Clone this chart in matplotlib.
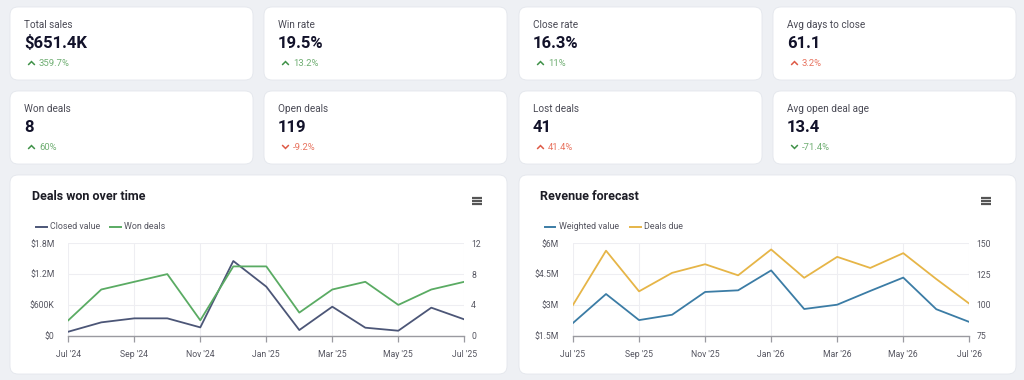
import matplotlib
matplotlib.use("Agg")
import matplotlib.pyplot as plt
from matplotlib.patches import FancyBboxPatch
import numpy as np

plt.rcParams['font.family'] = ['Roboto', 'DejaVu Sans']

# ---------------- data ----------------
kpi_labels = ["Total sales", "Win rate", "Close rate", "Avg days to close",
              "Won deals", "Open deals", "Lost deals", "Avg open deal age"]
kpi_values = ["$651.4K", "19.5%", "16.3%", "61.1", "8", "119", "41", "13.4"]
kpi_changes = ["359.7%", "13.2%", "11%", "3.2%", "60%", "-9.2%", "41.4%", "-71.4%"]
kpi_up = [True, True, True, True, True, False, True, False]
kpi_good = [True, True, True, False, True, False, False, True]

months_won = ["Jul '24", "Aug '24", "Sep '24", "Oct '24", "Nov '24", "Dec '24", "Jan '25",
              "Feb '25", "Mar '25", "Apr '25", "May '25", "Jun '25", "Jul '25"]
closed_value = [78e3, 260e3, 338e3, 338e3, 162e3, 1455e3, 955e3,
                110e3, 565e3, 156e3, 97e3, 546e3, 318e3]
won_deals = [2, 6, 7, 8, 2, 9, 9, 3, 6, 7, 4, 6, 7]

months_fc = ["Jul '25", "Aug '25", "Sep '25", "Oct '25", "Nov '25", "Dec '25", "Jan '26",
             "Feb '26", "Mar '26", "Apr '26", "May '26", "Jun '26", "Jul '26"]
weighted_value = [2.12e6, 3.53e6, 2.26e6, 2.52e6, 3.63e6, 3.71e6, 4.68e6,
                  2.80e6, 3.01e6, 3.68e6, 4.33e6, 2.79e6, 2.17e6]
deals_due = [100, 144, 111, 126, 133, 124, 145, 122, 139, 130, 142, 121, 101]

won_left_ticks = [0, 600e3, 1.2e6, 1.8e6]
won_left_labels = ["$0", "$600K", "$1.2M", "$1.8M"]
won_right_ticks = [0, 4, 8, 12]
fc_left_ticks = [1.5e6, 3e6, 4.5e6, 6e6]
fc_left_labels = ["$1.5M", "$3M", "$4.5M", "$6M"]
fc_right_ticks = [75, 100, 125, 150]

# ---------------- figure ----------------
W, H = 1024, 380
fig = plt.figure(figsize=(W / 100, H / 100), dpi=100)
fig.patch.set_facecolor("#eef0f4")

bg = fig.add_axes([0, 0, 1, 1])
bg.set_xlim(0, W)
bg.set_ylim(H, 0)
bg.axis("off")
bg.set_zorder(0)

BG_CARD = "#ffffff"
EDGE = "#e3e6ec"


def card(x0, y0, x1, y1):
    p = FancyBboxPatch((x0, y0), x1 - x0, y1 - y0,
                       boxstyle="round,pad=0,rounding_size=8",
                       facecolor=BG_CARD, edgecolor=EDGE, linewidth=0.6)
    bg.add_patch(p)


def chevron(x, y, up, color):
    if up:
        xs, ys = [x - 3.0, x, x + 3.0], [y + 1.6, y - 1.4, y + 1.6]
    else:
        xs, ys = [x - 3.0, x, x + 3.0], [y - 1.6, y + 1.4, y - 1.6]
    bg.plot(xs, ys, color=color, lw=1.1, solid_capstyle="round",
            solid_joinstyle="miter")


card_x = [(10, 253), (264, 507), (519, 762), (773, 1016)]
card_y = [(7, 80), (91, 164)]

for i in range(8):
    r, c = divmod(i, 4)
    x0, x1 = card_x[c]
    y0, y1 = card_y[r]
    card(x0, y0, x1, y1)
    tx = x0 + 14
    bg.text(tx, y0 + 17.5, kpi_labels[i], fontsize=7.2, color="#4a4a55",
            va="center", ha="left")
    bg.text(tx, y0 + 36.5, kpi_values[i], fontsize=12, fontweight="bold",
            color="#12122a", va="center", ha="left")
    arrow_col = "#3f9148" if kpi_good[i] else "#de5a46"
    text_col = "#6fae72" if kpi_good[i] else "#e8735f"
    chevron(tx + 7.5, y0 + 56, kpi_up[i], arrow_col)
    bg.text(tx + 15, y0 + 56, kpi_changes[i], fontsize=6.8, color=text_col,
            va="center", ha="left")

# chart cards
card(10, 175, 507, 374)
card(519, 175, 1016, 374)


def menu_icon(x, y):
    for dy in (-2.6, 0, 2.6):
        bg.plot([x - 5, x + 5], [y + dy, y + dy], color="#555555", lw=1.6,
                solid_capstyle="butt")


def chart(card_x0, title, plot_x0, plot_x1, months, s1, s2, c1, c2, n1, n2,
          lticks, llabels, lylim, rticks, rylim, leg_x):
    bg.text(card_x0 + 21.5, 196.5, title, fontsize=9, fontweight="bold",
            color="#1d1d26", va="center", ha="left")
    menu_icon(card_x0 + 467, 201)
    # legend
    lx = leg_x
    bg.plot([lx[0], lx[0] + 10.5], [226.5, 226.5], color=c1, lw=1.4)
    bg.text(lx[0] + 14, 226.5, n1, fontsize=6.4, color="#555560", va="center")
    bg.plot([lx[1], lx[1] + 10.5], [226.5, 226.5], color=c2, lw=1.4)
    bg.text(lx[1] + 14, 226.5, n2, fontsize=6.4, color="#555560", va="center")

    top, bot = 243.3, 335.7
    ax = fig.add_axes([plot_x0 / W, 1 - bot / H, (plot_x1 - plot_x0) / W,
                       (bot - top) / H])
    ax.set_zorder(2)
    ax.patch.set_alpha(0)
    x = np.arange(len(months))
    ax.set_xlim(0, len(months) - 1)
    ax.set_ylim(*lylim)
    ax.set_yticks(lticks)
    ax.set_yticklabels(llabels)
    ax.set_xticks(x[::2])
    ax.set_xticklabels([months[k] for k in range(0, len(months), 2)])
    for s in ("top", "right", "left"):
        ax.spines[s].set_visible(False)
    ax.spines["bottom"].set_color("#9a9aa0")
    ax.spines["bottom"].set_linewidth(1.0)
    ax.tick_params(axis="x", length=4.5, width=0.9, color="#9a9aa0",
                   labelsize=6.2, labelcolor="#555560", pad=6)
    ax.tick_params(axis="y", length=0, labelsize=6.2, labelcolor="#555560",
                   pad=10)
    ax.grid(True, color="#eeeef2", lw=0.8)
    ax.set_axisbelow(True)
    ax.plot(x, s1, color=c1, lw=1.3, zorder=3)

    ax2 = ax.twinx()
    ax2.set_ylim(*rylim)
    ax2.set_yticks(rticks)
    ax2.set_yticklabels([str(t) for t in rticks])
    for s in ("top", "right", "left", "bottom"):
        ax2.spines[s].set_visible(False)
    ax2.tick_params(axis="y", length=0, labelsize=6.2, labelcolor="#555560",
                    pad=5)
    ax2.plot(x, s2, color=c2, lw=1.3, zorder=3)
    return ax, ax2


chart(10, "Deals won over time", 68.3, 464.3, months_won, closed_value, won_deals,
      "#4c5677", "#5aab63", "Closed value", "Won deals",
      won_left_ticks, won_left_labels, (0, 1.8e6), won_right_ticks, (0, 12),
      (36, 110))

chart(519, "Revenue forecast", 573, 969.3, months_fc, weighted_value, deals_due,
      "#3b7ca5", "#e6b547", "Weighted value", "Deals due",
      fc_left_ticks, fc_left_labels, (1.5e6, 6e6), fc_right_ticks, (75, 150),
      (544.7, 630))

fig.savefig("out.png", dpi=100, facecolor=fig.get_facecolor())
